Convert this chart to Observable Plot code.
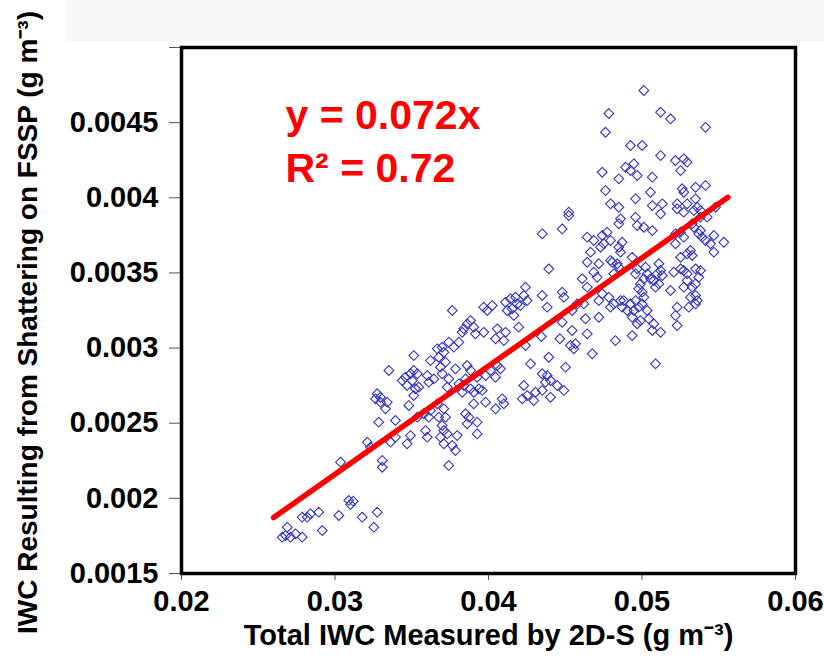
<!DOCTYPE html>
<html><head><meta charset="utf-8">
<script src="https://cdn.jsdelivr.net/npm/d3@7"></script>
<script src="https://cdn.jsdelivr.net/npm/@observablehq/plot@0.6"></script>
<style>
body{margin:0;background:#fff;}
#wrap{position:relative;width:824px;height:660px;overflow:hidden;background:#fff;}
#banner{position:absolute;left:65px;top:0;width:759px;height:42px;background:#f6f7f7;}
#chart{position:absolute;left:0;top:0;}
</style></head><body>
<div id="wrap"><div id="banner"></div><div id="chart"></div></div>
<script>
// Scatter values (x: total IWC by 2D-S, y: shattering IWC on FSSP), grouped by region
const lowPoints = [[0.03090,0.001986],[0.03119,0.001981],[0.03101,0.001959],[0.03025,0.001886],[0.02894,0.001908],[0.02840,0.001897],[0.02819,0.001875],[0.02786,0.001875],[0.02689,0.001808],[0.02678,0.001753],[0.02710,0.001742],[0.02743,0.001764],[0.02786,0.001742],[0.02656,0.001742],[0.02917,0.001786],[0.03177,0.001875],[0.03275,0.001908],[0.03253,0.001808]];
const midPoints = [[0.03764,0.003250],[0.03969,0.003272],[0.04024,0.003283],[0.03992,0.003250],[0.04111,0.003305],[0.04143,0.003328],[0.04176,0.003338],[0.04230,0.003350],[0.04241,0.003405],[0.04187,0.003294],[0.04154,0.003261],[0.04208,0.003283],[0.04252,0.003316],[0.04122,0.003250],[0.04165,0.003217],[0.04197,0.003139],[0.03861,0.003161],[0.03839,0.003128],[0.03883,0.003183],[0.03829,0.003105],[0.03904,0.003139],[0.03915,0.003095],[0.03969,0.003105],[0.04057,0.003128],[0.04111,0.003105],[0.04046,0.003062],[0.04100,0.003050],[0.04241,0.003017],[0.03741,0.003039],[0.03807,0.003039],[0.03774,0.003006],[0.03698,0.003006],[0.03666,0.002995],[0.03709,0.002972],[0.03513,0.002950],[0.03622,0.002917],[0.03676,0.002939],[0.03720,0.002906],[0.03351,0.002851],[0.03438,0.002784],[0.03459,0.002806],[0.03492,0.002829],[0.03513,0.002851],[0.03536,0.002829],[0.03470,0.002751],[0.03503,0.002784],[0.03524,0.002729],[0.03546,0.002740],[0.03513,0.002684],[0.03601,0.002817],[0.03611,0.002773],[0.03644,0.002795],[0.03687,0.002873],[0.03698,0.002829],[0.03741,0.002795],[0.03731,0.002740],[0.03785,0.002862],[0.03861,0.002884],[0.03883,0.002851],[0.03926,0.002806],[0.03850,0.002795],[0.03839,0.002751],[0.03883,0.002729],[0.03904,0.002706],[0.03937,0.002729],[0.03959,0.002718],[0.03981,0.002817],[0.04013,0.002851],[0.04057,0.002884],[0.04078,0.002862],[0.04046,0.002806],[0.03807,0.002762],[0.03829,0.002706],[0.03275,0.002696],[0.03264,0.002662],[0.03296,0.002673],[0.03296,0.002640],[0.03329,0.002596],[0.03340,0.002640],[0.03481,0.002618],[0.03285,0.002507],[0.03394,0.002518],[0.03536,0.002540],[0.03579,0.002563],[0.03622,0.002585],[0.03611,0.002540],[0.03666,0.002629],[0.03709,0.002596],[0.03676,0.002540],[0.03720,0.002540],[0.03698,0.002485],[0.03709,0.002451],[0.03687,0.002407],[0.03709,0.002363],[0.03731,0.002429],[0.03796,0.002418],[0.03785,0.002318],[0.03764,0.002352],[0.03590,0.002451],[0.03601,0.002407],[0.03492,0.002418],[0.03470,0.002363],[0.03394,0.002407],[0.03362,0.002374],[0.03210,0.002374],[0.03231,0.002340],[0.03850,0.002563],[0.03872,0.002540],[0.03861,0.002496],[0.03926,0.002507],[0.03926,0.002429],[0.03904,0.002629],[0.03981,0.002640],[0.04046,0.002596],[0.04100,0.002629],[0.04089,0.002662],[0.04220,0.002662],[0.04252,0.002684],[0.04230,0.002751],[0.03308,0.002252],[0.03308,0.002207],[0.03741,0.002219],[0.03036,0.002241]];
const upperMidPoints = [[0.04523,0.003904],[0.04523,0.003882],[0.04480,0.003793],[0.04350,0.003760],[0.04393,0.003527],[0.04480,0.003372],[0.04491,0.003338],[0.04350,0.003350],[0.04382,0.003272],[0.04578,0.003294],[0.04545,0.003250],[0.04480,0.003172],[0.04545,0.003117],[0.04534,0.003017],[0.04567,0.003028],[0.04556,0.002995],[0.04502,0.002873],[0.04393,0.002939],[0.04274,0.002895],[0.04350,0.002829],[0.04382,0.002817],[0.04404,0.002784],[0.04371,0.002773],[0.04448,0.002751],[0.04491,0.002718],[0.04306,0.002706],[0.04295,0.002651],[0.04350,0.002718],[0.04404,0.002673],[0.04345,0.003077],[0.04465,0.003062]];
const highPoints = [[0.05012,0.004714],[0.04784,0.004561],[0.05121,0.004569],[0.05186,0.004525],[0.05414,0.004469],[0.04762,0.004436],[0.04925,0.004348],[0.05001,0.004348],[0.05121,0.004281],[0.05218,0.004248],[0.05272,0.004259],[0.05251,0.004181],[0.05294,0.004237],[0.04893,0.004203],[0.04947,0.004226],[0.04969,0.004148],[0.04925,0.004181],[0.04741,0.004170],[0.04849,0.004126],[0.05067,0.004137],[0.04762,0.004048],[0.05055,0.004037],[0.04958,0.003993],[0.05262,0.004060],[0.05272,0.004037],[0.05349,0.004070],[0.05414,0.004082],[0.04795,0.003960],[0.04849,0.003937],[0.05067,0.003948],[0.05132,0.003960],[0.05121,0.003893],[0.05229,0.003960],[0.05229,0.003927],[0.05294,0.003960],[0.05349,0.003993],[0.05360,0.003937],[0.05338,0.003915],[0.05381,0.003915],[0.05479,0.003937],[0.04860,0.003860],[0.04849,0.003827],[0.04958,0.003871],[0.04969,0.003815],[0.05012,0.003804],[0.05067,0.003782],[0.04643,0.003738],[0.04686,0.003716],[0.04741,0.003749],[0.04773,0.003771],[0.04795,0.003716],[0.04751,0.003694],[0.04730,0.003671],[0.04849,0.003671],[0.04860,0.003638],[0.04871,0.003704],[0.04665,0.003638],[0.04643,0.003571],[0.04719,0.003561],[0.04795,0.003583],[0.04839,0.003561],[0.04936,0.003604],[0.04969,0.003527],[0.04958,0.003494],[0.05023,0.003538],[0.05034,0.003494],[0.05055,0.003461],[0.05110,0.003561],[0.05121,0.003516],[0.05099,0.003494],[0.05132,0.003483],[0.05110,0.003427],[0.05077,0.003449],[0.05088,0.003405],[0.05186,0.003383],[0.05218,0.003760],[0.05218,0.003694],[0.05251,0.003771],[0.05272,0.003738],[0.05316,0.003649],[0.05294,0.003627],[0.05327,0.003616],[0.05338,0.003804],[0.05381,0.003782],[0.05392,0.003738],[0.05414,0.003716],[0.05370,0.003760],[0.05468,0.003749],[0.05468,0.003638],[0.05533,0.003704],[0.05251,0.003527],[0.05272,0.003516],[0.05294,0.003494],[0.05349,0.003527],[0.05294,0.003449],[0.05272,0.003405],[0.05327,0.003405],[0.05349,0.003350],[0.05316,0.003338],[0.05360,0.003316],[0.05349,0.003294],[0.05305,0.003272],[0.05229,0.003272],[0.05218,0.003217],[0.05229,0.003150],[0.05121,0.003105],[0.05088,0.002895],[0.04936,0.003083],[0.04827,0.003050],[0.04676,0.002962],[0.04643,0.003095],[0.04632,0.003195],[0.04719,0.003205],[0.04795,0.003272],[0.04816,0.003294],[0.04860,0.003316],[0.04871,0.003272],[0.04904,0.003250],[0.04925,0.003294],[0.04958,0.003316],[0.04979,0.003272],[0.04936,0.003205],[0.04969,0.003161],[0.05001,0.003294],[0.05012,0.003338],[0.05034,0.003250],[0.04990,0.003183],[0.04947,0.003250],[0.04881,0.003316],[0.05001,0.003372],[0.04979,0.003394],[0.05044,0.003195],[0.05077,0.003161],[0.05067,0.003117],[0.04990,0.003427],[0.05012,0.003461],[0.04610,0.003461],[0.04643,0.003405],[0.04686,0.003505],[0.04708,0.003471],[0.04741,0.003361],[0.04719,0.003316],[0.04784,0.003338],[0.04816,0.003494],[0.04806,0.003571],[0.04849,0.003538],[0.04621,0.003294],[0.05207,0.003505],[0.05251,0.003604],[0.05370,0.003471],[0.05349,0.003427],[0.05381,0.003516],[0.05446,0.003694],[0.05381,0.003871],[0.05425,0.003871],[0.05327,0.003827],[0.05272,0.003904]];

// Linear fit through origin
const fitSlope = 0.072;
const fitXRange = [0.026, 0.0556];

// Axes
const xTicks = [0.02, 0.03, 0.04, 0.05, 0.06];
const xTickLabels = ["0.02", "0.03", "0.04", "0.05", "0.06"];
const yTicks = [0.0015, 0.002, 0.0025, 0.003, 0.0035, 0.004, 0.0045, 0.005];
const yTickLabels = ["0.0015", "0.002", "0.0025", "0.003", "0.0035", "0.004", "0.0045", ""];
const xTitle = "Total IWC Measured by 2D-S (g m⁻³)";
const yTitle = "IWC Resulting from Shattering on FSSP (g m⁻³)";
const equationText = "y = 0.072x\nR² = 0.72";

const points = [...lowPoints, ...midPoints, ...upperMidPoints, ...highPoints].map(([x, y]) => ({x, y}));
const fitLine = fitXRange.map(x => ({x, y: fitSlope * x}));
const font = "'Liberation Sans', Arial, sans-serif";

const chart = Plot.plot({
  width: 824,
  height: 660,
  marginLeft: 181,
  marginRight: 29,
  marginTop: 47,
  marginBottom: 87,
  style: {fontFamily: font, background: "transparent", overflow: "visible"},
  x: {domain: [0.02, 0.06]},
  y: {domain: [0.0015, 0.005]},
  marks: [
    Plot.dot(points, {x: "x", y: "y", symbol: "diamond2", r: 4.4, stroke: "#3434c4", strokeWidth: 1.1, fill: "none"}),
    Plot.line(fitLine, {x: "x", y: "y", stroke: "#ff0000", strokeWidth: 5.5}),
    Plot.axisX({ticks: xTicks, tickFormat: d => xTickLabels[xTicks.indexOf(d)], tickSize: 7, tickPadding: 10, fontSize: 29, fontWeight: "bold", stroke: "#555", fill: "black", label: null}),
    Plot.axisY({ticks: yTicks, tickFormat: d => yTickLabels[yTicks.indexOf(d)], tickSize: 12, tickPadding: 11, fontSize: 29, fontWeight: "bold", stroke: "#555", fill: "black", label: null}),
    Plot.text([xTitle], {text: d => d, frameAnchor: "bottom", dy: 71, fontSize: 29, fontWeight: "bold", fill: "black"}),
    Plot.text([yTitle], {text: d => d, frameAnchor: "left", textAnchor: "middle", rotate: -90, dx: -153, dy: 12, fontSize: 28, fontWeight: "bold", fill: "black"}),
    Plot.text([equationText], {text: d => d, frameAnchor: "top-left", dx: 104, dy: 45, textAnchor: "start", lineAnchor: "top", lineHeight: 1.27, fontSize: 41, fontWeight: "bold", fill: "#ff0000"}),
    Plot.frame({stroke: "black", strokeWidth: 3.5})
  ]
});
document.getElementById("chart").appendChild(chart);
</script>
</body></html>
